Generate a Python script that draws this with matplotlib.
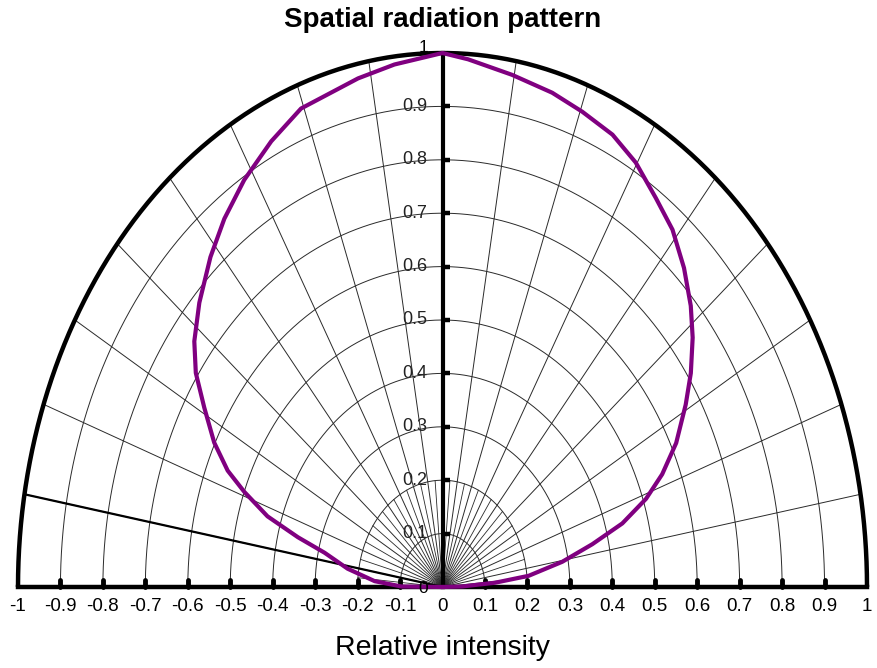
import numpy as np
import matplotlib
matplotlib.use("Agg")
import matplotlib.pyplot as plt

plt.rcParams['font.family'] = ['Liberation Sans', 'DejaVu Sans']

# ---- data -------------------------------------------------------------
title = "Spatial radiation pattern"
xlabel = "Relative intensity"
x_ticks = [-1, -0.9, -0.8, -0.7, -0.6, -0.5, -0.4, -0.3, -0.2, -0.1, 0,
           0.1, 0.2, 0.3, 0.4, 0.5, 0.6, 0.7, 0.8, 0.9, 1]
x_tick_labels = ["-1", "-0.9", "-0.8", "-0.7", "-0.6", "-0.5", "-0.4", "-0.3",
                 "-0.2", "-0.1", "0", "0.1", "0.2", "0.3", "0.4", "0.5", "0.6",
                 "0.7", "0.8", "0.9", "1"]
r_ticks = [0.1, 0.2, 0.3, 0.4, 0.5, 0.6, 0.7, 0.8, 0.9]
r_tick_labels = ["0.1", "0.2", "0.3", "0.4", "0.5", "0.6", "0.7", "0.8", "0.9"]
radial_major_deg = list(range(10, 180, 10))
radial_minor_deg = list(range(5, 180, 10))
marker_line_deg = 170

angles_deg = [0, 1.2, 3.7, 5.9, 9.5, 12.8, 15.7, 19.0, 22.2, 26.1, 30.8, 34.4,
              38.4, 42.0, 46.4, 51.0, 55.4, 60.2, 64.7, 69.7, 74.4, 80.3, 86.5,
              90, 96.6, 101.8, 110.4, 115.8, 121.5, 126.7, 131.5, 137.1, 141.8,
              145.4, 149.1, 153.3, 156.7, 159.1, 162.2, 164.7, 167.0, 171.3,
              176.1, 179.4, 180]
intensity = [0, 0.046, 0.124, 0.204, 0.286, 0.362, 0.440, 0.507, 0.559, 0.613,
             0.667, 0.709, 0.752, 0.787, 0.825, 0.861, 0.885, 0.916, 0.937,
             0.949, 0.961, 0.973, 0.990, 1.0, 0.985, 0.973, 0.956, 0.927, 0.894,
             0.860, 0.825, 0.782, 0.744, 0.706, 0.654, 0.602, 0.551, 0.500,
             0.433, 0.353, 0.285, 0.226, 0.160, 0.097, 0]

# ---- figure -----------------------------------------------------------
W, H = 877, 668
fig = plt.figure(figsize=(W / 100, H / 100), dpi=100)
ax = fig.add_axes([18 / W, (H - 587) / H, 849 / W, 534 / H])
ax.set_xlim(-1, 1)
ax.set_ylim(0, 1)
ax.axis('off')

grid_col = '#2a2a2a'
t = np.linspace(0, np.pi, 400)

# concentric arcs
for r in r_ticks:
    ax.plot(r * np.cos(t), r * np.sin(t), color=grid_col, lw=0.7, zorder=1)

# radial lines
for d in radial_major_deg:
    a = np.deg2rad(d)
    ax.plot([0, np.cos(a)], [0, np.sin(a)], color=grid_col, lw=0.7, zorder=1)
for d in radial_minor_deg:
    a = np.deg2rad(d)
    ax.plot([0, 0.2 * np.cos(a)], [0, 0.2 * np.sin(a)], color=grid_col, lw=0.6, zorder=1)

# emphasised radial line
a = np.deg2rad(marker_line_deg)
ax.plot([0, np.cos(a)], [0, np.sin(a)], color='black', lw=1.6, zorder=2)

# outer semicircle, baseline, vertical axis
ax.plot(np.cos(t), np.sin(t), color='black', lw=3.2, zorder=4, clip_on=False,
        solid_capstyle='butt')
ax.plot([-1, 1], [0, 0], color='black', lw=3.2, zorder=4, clip_on=False,
        solid_capstyle='projecting')
ax.plot([0, 0], [0, 1], color='black', lw=3.0, zorder=4, clip_on=False)

# tick marks on the baseline
for xv in x_ticks[1:-1]:
    if xv == 0:
        continue
    ax.plot([xv, xv], [0, 0.013], color='black', lw=3.5, zorder=4,
            solid_capstyle='round', clip_on=False)
# tick marks on vertical axis
for rv in r_ticks:
    ax.plot([0, 0.017], [rv, rv], color='black', lw=3.2, zorder=4,
            solid_capstyle='butt', clip_on=False)

# radiation pattern
th = np.deg2rad(angles_deg)
ri = np.asarray(intensity)
ax.plot(ri * np.cos(th), ri * np.sin(th), color='#800080', lw=3.0, zorder=5,
        solid_joinstyle='round', clip_on=False)

# labels
for xv, lab in zip(x_ticks, x_tick_labels):
    ax.text(xv, -0.036, lab, ha='center', va='center', fontsize=13.5, clip_on=False)
for rv, lab in zip(r_ticks, r_tick_labels):
    ax.text(-0.036, rv, lab, ha='right', va='center', fontsize=13, clip_on=False,
            zorder=0.5, color='#222222')
ax.text(-0.045, 1.01, "1", ha='center', va='center', fontsize=12.5, clip_on=False, zorder=0.5)
ax.text(-0.045, -0.002, "0", ha='center', va='center', fontsize=12.5, clip_on=False, zorder=6)
ax.text(0, -0.114, xlabel, ha='center', va='center', fontsize=20.5, clip_on=False)
ax.text(0, 1.062, title, ha='center', va='center', fontsize=20,
        fontweight='bold', clip_on=False)

fig.savefig("out.png", dpi=100)
